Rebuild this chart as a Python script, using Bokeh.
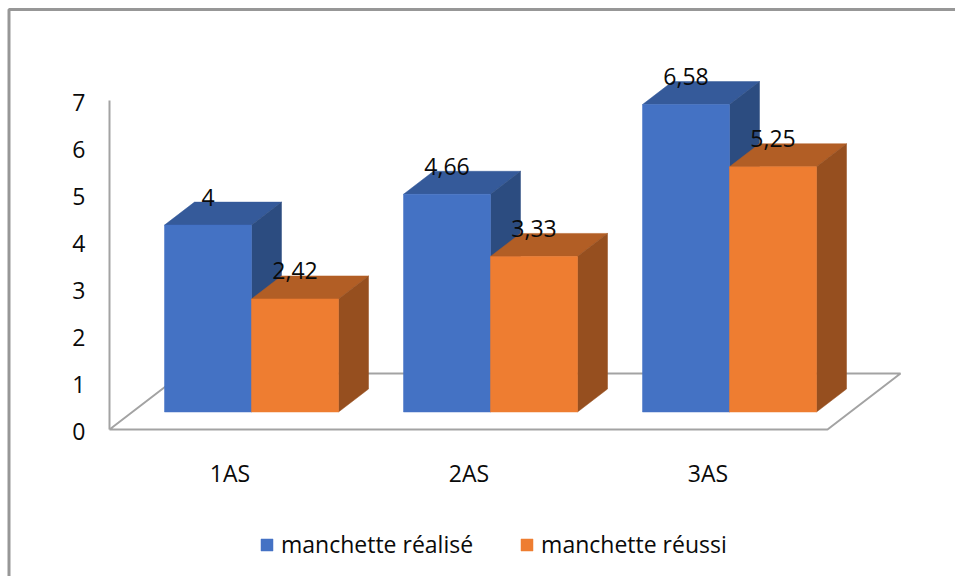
from bokeh.core.properties import value
from bokeh.embed import file_html
from bokeh.models import (BoxAnnotation, FixedTicker, Legend, LegendItem, LinearAxis, Range1d)
from bokeh.plotting import figure
from bokeh.resources import INLINE

categories = ["1AS", "2AS", "3AS"]
realise = [4, 4.66, 6.58]
reussi = [2.42, 3.33, 5.25]
value_labels_realise = ["4", "4,66", "6,58"]
value_labels_reussi = ["2,42", "3,33", "5,25"]
y_ticks = [0, 1, 2, 3, 4, 5, 6, 7]

W, H = 955, 576
FONT = "Open Sans"
FONT_SIZE = "23px"
INK = "#0a0a0a"
GRAY = "#a3a3a3"

# Horizontal scale: one category step; vertical scale: one unit of value.
STEP_PX, UNIT_PX = 239.0, 46.72
X0_PX, Y0_PX = 251.0, 411.5
BAR_W = 87.0 / STEP_PX
DEPTH_X = 30.0 / STEP_PX
DEPTH_Y = 23.0 / UNIT_PX

p = figure(width=W, height=H, output_backend="svg", toolbar_location=None,
           x_range=Range1d(-X0_PX / STEP_PX, (W - X0_PX) / STEP_PX),
           y_range=Range1d(-(H - Y0_PX) / UNIT_PX, Y0_PX / UNIT_PX),
           min_border=0, x_axis_type=None, y_axis_type=None)
p.grid.visible = False
p.outline_line_color = None
p.background_fill_color = "white"
p.border_fill_color = "white"

# Ranges for the value axis and the category labels, which sit on the front of the floor.
p.extra_y_ranges["axis"] = Range1d((431 - H) / 47.0, 431 / 47.0)
p.extra_x_ranges["cats"] = Range1d(-229.5 / STEP_PX, (W - 229.5) / STEP_PX)

def px_x(v):
    return (v - X0_PX) / STEP_PX

def px_y(v):
    return (Y0_PX - v) / UNIT_PX

# Chart frame: only its top and left edges fall inside the page
p.add_layout(BoxAnnotation(left=8.5, right=W + 20, top=H - 9, bottom=-20,
                           left_units="screen", right_units="screen",
                           top_units="screen", bottom_units="screen",
                           fill_alpha=0, line_color="#979797", line_alpha=1, line_width=3))

# Floor and left wall of the 3D box
floor_x = [px_x(109), px_x(827), px_x(900), px_x(182), px_x(109)]
floor_y = [px_y(429), px_y(429), px_y(373), px_y(373), px_y(429)]
p.line(floor_x, floor_y, line_color=GRAY, line_width=2)
p.line([px_x(109), px_x(109)], [px_y(429), px_y(100)], line_color=GRAY, line_width=2)

yaxis = LinearAxis(y_range_name="axis", fixed_location=px_x(109),
                   ticker=FixedTicker(ticks=y_ticks),
                   axis_line_color=None,
                   major_tick_line_color=None, minor_tick_line_color=None,
                   major_label_standoff=18,
                   major_label_text_font=FONT, major_label_text_font_size=FONT_SIZE,
                   major_label_text_color=INK)
p.add_layout(yaxis, "left")

xaxis = LinearAxis(x_range_name="cats", fixed_location=px_y(429),
                   ticker=FixedTicker(ticks=[0, 1, 2]),
                   major_label_overrides={i: c for i, c in enumerate(categories)},
                   axis_line_color=None, major_tick_line_color=None, minor_tick_line_color=None,
                   major_label_standoff=21,
                   major_label_text_font=FONT, major_label_text_font_size=FONT_SIZE,
                   major_label_text_color=INK)
p.add_layout(xaxis, "below")

def draw_series(values, labels, offset, front, top, side):
    centers = [i + offset for i in range(len(values))]
    tops_x, tops_y, sides_x, sides_y = [], [], [], []
    for c, v in zip(centers, values):
        l, r = c - BAR_W / 2, c + BAR_W / 2
        tops_x.append([l, r, r + DEPTH_X, l + DEPTH_X])
        tops_y.append([v, v, v + DEPTH_Y, v + DEPTH_Y])
        sides_x.append([r, r + DEPTH_X, r + DEPTH_X, r])
        sides_y.append([0, DEPTH_Y, v + DEPTH_Y, v])
    p.patches(tops_x, tops_y, fill_color=top, line_color=top, line_width=0.5)
    p.patches(sides_x, sides_y, fill_color=side, line_color=side, line_width=0.5)
    bars = p.vbar(x=centers, top=values, bottom=0, width=BAR_W, fill_color=front,
                  line_color=front, line_width=0.5)
    p.text(centers, values, text=labels, text_align="center", text_baseline="middle",
           y_offset=-28, text_font=value(FONT), text_font_size=FONT_SIZE, text_color=INK)
    return bars

# Each category holds a pair of touching bars, left one first, so the taller row is drawn behind.
bars_a = draw_series(realise, value_labels_realise, -BAR_W / 2, "#4472C4", "#355A9A", "#2C4C80")
bars_b = draw_series(reussi, value_labels_reussi, BAR_W / 2, "#EE7D31", "#B25E25", "#964F1F")

legend = Legend(items=[LegendItem(label="manchette réalisé", renderers=[bars_a]),
                       LegendItem(label="manchette réussi", renderers=[bars_b])],
                orientation="horizontal", location=(259, 576 - 560),
                glyph_width=15, glyph_height=15, label_standoff=7, spacing=46,
                padding=0, margin=0, border_line_color=None, background_fill_alpha=0,
                label_text_font=FONT, label_text_font_size=FONT_SIZE, label_text_color=INK)
p.add_layout(legend, "center")

open("out.html", "w").write(file_html(p, INLINE))
